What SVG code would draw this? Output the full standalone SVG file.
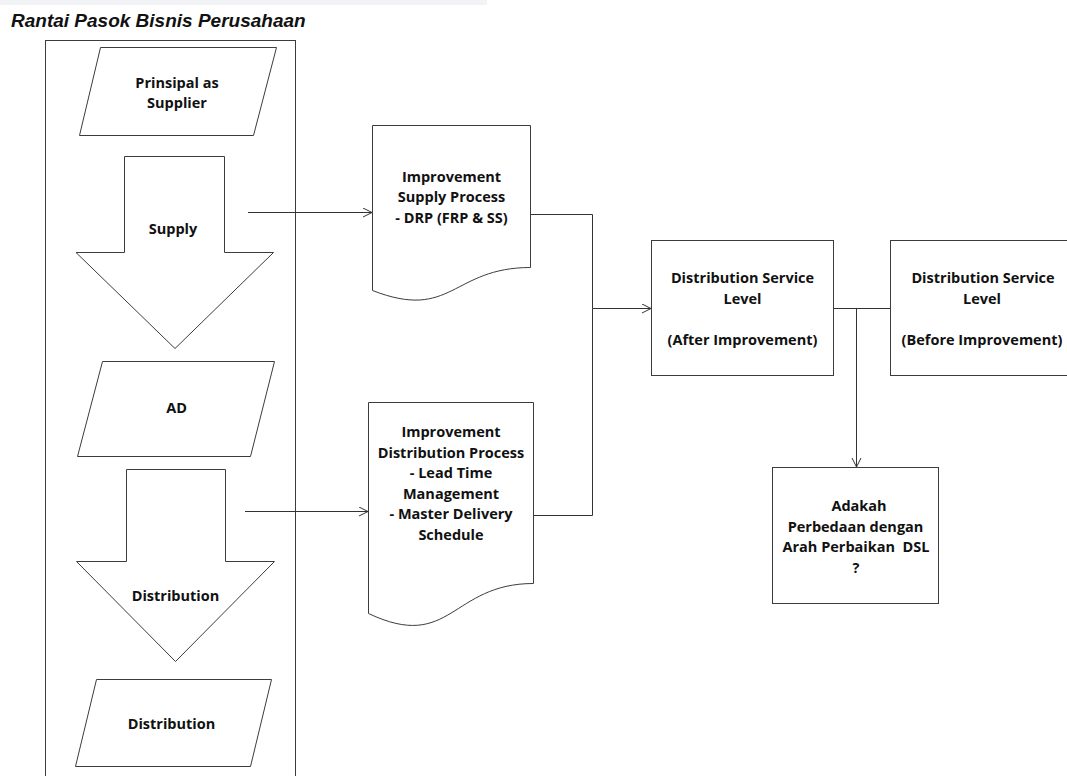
<svg xmlns="http://www.w3.org/2000/svg" width="1067" height="776" viewBox="0 0 1067 776">
<style>
.sh{fill:#fff;stroke:#3c3c3c;stroke-width:1}
.t{font-family:"Open Sans","Noto Sans",sans-serif;font-weight:bold;font-size:14.5px;fill:#111;text-anchor:middle}
.c{fill:none;stroke:#333;stroke-width:1}
.title{font-family:"Liberation Sans",Arial,sans-serif;font-weight:bold;font-style:italic;font-size:19px;fill:#111}
</style>
<defs>
<marker id="ah" markerUnits="userSpaceOnUse" markerWidth="12" markerHeight="12" refX="10" refY="5" orient="auto">
<path d="M1,0.5 L10,5 L1,9.5" fill="none" stroke="#333" stroke-width="1"/>
</marker>
</defs>
<rect x="0" y="0" width="487" height="5" fill="#f1f3f6"/>
<text class="title" x="11" y="26.5">Rantai Pasok Bisnis Perusahaan</text>

<g id="container"><rect class="sh" x="45.5" y="40.5" width="250" height="800"/></g>

<g id="principal">
<polygon class="sh" points="100.5,47.5 276.5,47.5 253.5,135.5 79.5,135.5"/>
<text class="t" x="177" y="87.5">Prinsipal as</text>
<text class="t" x="177" y="107.5">Supplier</text>
</g>

<g id="supply">
<polygon class="sh" points="124.5,156.5 224.5,156.5 224.5,252.5 273.5,252.5 175,348.5 76,252.5 124.5,252.5"/>
<text class="t" x="173" y="233.5">Supply</text>
</g>

<g id="ad">
<polygon class="sh" points="102.5,361.5 274.5,361.5 250.5,456.5 77.5,456.5"/>
<text class="t" x="176.5" y="413">AD</text>
</g>

<g id="distribution-arrow">
<polygon class="sh" points="126.5,469.5 225.5,469.5 225.5,561.5 274.5,561.5 175.5,661.5 76.5,561.5 126.5,561.5"/>
<text class="t" x="175.5" y="601">Distribution</text>
</g>

<g id="distribution">
<polygon class="sh" points="96.5,679.5 271.5,679.5 250.5,766.5 75.5,766.5"/>
<text class="t" x="171.5" y="728.5">Distribution</text>
</g>

<g id="doc-supply">
<path class="sh" d="M372.5,125.5 L530.5,125.5 L530.5,267.5 C452,267.5 452,321.5 372.5,290.5 Z"/>
<text class="t" x="451.5" y="181.5">Improvement</text>
<text class="t" x="451.5" y="202">Supply Process</text>
<text class="t" x="451.5" y="222.5">- DRP (FRP &amp; SS)</text>
</g>

<g id="doc-distribution">
<path class="sh" d="M368.5,402.5 L533.5,402.5 L533.5,583.5 C451,583.5 451,652.5 368.5,613.5 Z"/>
<text class="t" x="451" y="437">Improvement</text>
<text class="t" x="451" y="457.5">Distribution Process</text>
<text class="t" x="451" y="478">- Lead Time</text>
<text class="t" x="451" y="498.5">Management</text>
<text class="t" x="451" y="519">- Master Delivery</text>
<text class="t" x="451" y="539.5">Schedule</text>
</g>

<g id="dsl-after">
<rect class="sh" x="651.5" y="240.5" width="182" height="135"/>
<text class="t" x="742.5" y="283">Distribution Service</text>
<text class="t" x="742.5" y="304">Level</text>
<text class="t" x="742.5" y="344.5">(After Improvement)</text>
</g>

<g id="dsl-before">
<rect class="sh" x="890.5" y="240.5" width="190" height="135"/>
<text class="t" x="983" y="283">Distribution Service</text>
<text class="t" x="982" y="304">Level</text>
<text class="t" x="982" y="344.5">(Before Improvement)</text>
</g>

<g id="question">
<rect class="sh" x="772.5" y="467.5" width="166" height="136"/>
<text class="t" x="859" y="511">Adakah</text>
<text class="t" x="855.5" y="531.5">Perbedaan dengan</text>
<text class="t" x="856" y="552" style="white-space:pre">Arah Perbaikan  DSL</text>
<text class="t" x="856" y="572.5">?</text>
</g>

<g id="connectors">
<path class="c" d="M248,212.5 L372,212.5" marker-end="url(#ah)"/>
<path class="c" d="M245,511.5 L368,511.5" marker-end="url(#ah)"/>
<path class="c" d="M531,214.5 L592.5,214.5 L592.5,308.5 L651,308.5" marker-end="url(#ah)"/>
<path class="c" d="M534,515.5 L592.5,515.5 L592.5,308.5"/>
<path class="c" d="M834,308.5 L890,308.5"/>
<path class="c" d="M856.5,308.5 L856.5,467" marker-end="url(#ah)"/>
</g>
</svg>
